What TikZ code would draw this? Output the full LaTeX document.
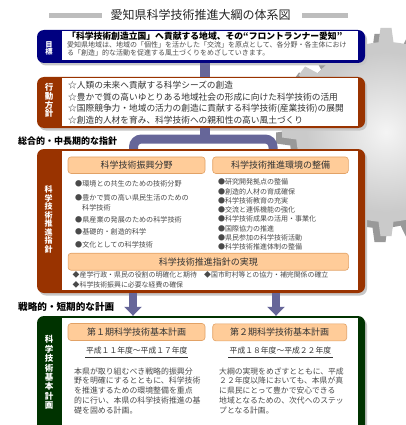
\documentclass[tikz,border=0pt]{standalone}
\usepackage{fontspec}
\setmainfont{Noto Sans CJK JP}
\usetikzlibrary{arrows.meta,calc}

\definecolor{goalblue}{HTML}{000080}
\definecolor{policybrown}{HTML}{993300}
\definecolor{plangreen}{HTML}{003300}
\definecolor{linkpurple}{HTML}{666699}
\definecolor{headfill}{HTML}{FFCC99}
\definecolor{headedge}{HTML}{E2A266}
\definecolor{bodygray}{HTML}{4A4A4A}
\definecolor{gearface}{HTML}{CACACA}
\definecolor{gearside}{HTML}{999999}
\definecolor{titlebar}{HTML}{BDBDBD}

\newcommand{\jfs}[1]{\fontsize{#1}{#1}\selectfont}

\tikzset{
  framebox/.style={rounded corners=7pt, minimum width=328pt, inner sep=0pt, draw=none},
  boxshadow/.style={fill=black!22, rounded corners=7pt},
  headbox/.style={fill=headfill, draw=headedge, line width=0.6pt, rounded corners=3pt,
    inner sep=0pt, text=black!80},
  vlabel/.style={text=white, align=center, inner sep=0pt},
  sectlabel/.style={anchor=west, inner sep=0pt, text=black},
  txt/.style={anchor=west, inner sep=0pt},
  link/.style={draw=linkpurple},
  downarrow/.style={draw=linkpurple, line width=8pt,
    -{Triangle[width=17pt,length=9pt,fill=linkpurple]}},
  geartooth/.style={rotate=#1},
}

\begin{document}
\begin{tikzpicture}[x=1pt, y=-1pt]
\path[use as bounding box] (0,0) rectangle (406,425);
\clip (0,0) rectangle (406,425);
\fill[white] (0,0) rectangle (406,425);

% gear in the background, behind the frames
\begin{scope}[shift={(386,132)}]
  \begin{scope}[shift={(-6,6)}]
    \fill[gearside] (0,0) circle (90pt);
    \foreach \a in {0,18,...,342}
      \fill[gearside, rotate=\a] (-8,86) -- (-5.5,104) -- (5.5,104) -- (8,86) -- cycle;
  \end{scope}
  \fill[gearface] (0,0) circle (90pt);
  \foreach \a in {0,18,...,342}
    \fill[gearface, rotate=\a] (-8,86) -- (-5.5,104) -- (5.5,104) -- (8,86) -- cycle;
  \shade[inner color=white!80!gearface, outer color=gearface] (0,0) circle (80pt);
\end{scope}

% title
\fill[titlebar] (49,12.7) rectangle (102,18.3);
\fill[titlebar] (301.7,12.7) rectangle (348.3,18.3);
\node[inner sep=0pt, text=black!85, font=\jfs{12}] (title) at (200.5,15) {愛知県科学技術推進大綱の体系図};

% frame shadows
\fill[boxshadow] (39,32.5) rectangle (367,65.5);
\fill[boxshadow] (39,79.5) rectangle (367,130.5);
\fill[boxshadow] (39,151.5) rectangle (367,295.5);
\fill[boxshadow] (39,318.5) rectangle (367,445);

% frames
\node[framebox, fill=goalblue, minimum height=33pt] (goal) at (201,46.5) {};
\node[framebox, fill=policybrown, minimum height=51pt] (policy) at (201,102.5) {};
\node[framebox, fill=policybrown, minimum height=144pt] (guide) at (201,221) {};
\node[framebox, fill=plangreen, minimum height=128pt] (plan) at (201,380) {};

\fill[white] (61.5,31.5) rectangle (357.5,60.5);
\fill[white] (61.5,78.5) rectangle (357.5,125.5);
\fill[white] (61.5,150.5) rectangle (357.5,290);
\fill[white] (61.5,317.5) rectangle (357.5,450);

% connectors
\coordinate (stemx) at (205,0);
\coordinate (forkmid) at (205,139);
\coordinate (legL) at (133.5,0);
\coordinate (legR) at (273,0);
\coordinate (colL) at (133,0);
\coordinate (colR) at (276,0);
\draw[link, line width=10pt] (goal.south -| stemx) -- (policy.north -| stemx);
\draw[link, line width=10pt] (policy.south -| stemx) -- (forkmid);
\draw[link, line width=9pt, rounded corners=8pt]
  (guide.north -| legL) |- (forkmid) -| (guide.north -| legR);
\draw[downarrow] (guide.south -| colL) -- (plan.north -| colL);
\draw[downarrow] (guide.south -| colR) -- (plan.north -| colR);

% side labels
\node[vlabel, font=\bfseries\fontsize{7.3}{7.4}\selectfont] (labgoal) at (49,48.7) {目\\標};
\node[vlabel, font=\bfseries\fontsize{8.5}{8.75}\selectfont] (labpolicy) at (49,100.5) {行\\動\\方\\針};
\node[vlabel, font=\bfseries\fontsize{8}{8.5}\selectfont] (labguide) at (48.5,219.2) {科\\学\\技\\術\\推\\進\\指\\針};
\node[vlabel, font=\bfseries\fontsize{8.5}{9.4}\selectfont] (labplan) at (49,372.5) {科\\学\\技\\術\\基\\本\\計\\画};

% goal text
\node[txt, font=\bfseries\jfs{8.8}] (goalhead) at (67,36) {「科学技術創造立国」へ貢献する地域、その“フロントランナー愛知”};
\node[txt, text=bodygray, font=\jfs{7}] (goalbody1) at (67,44.5) {愛知県地域は、地域の「個性」を活かした「交流」を原点として、各分野・各主体におけ};
\node[txt, text=bodygray, font=\jfs{7}] (goalbody2) at (67,52.5) {る「創造」的な活動を促進する風土づくりをめざしていきます。};

% policy text
\node[txt, text=black!80, font=\jfs{8.7}] (pol1) at (68,85.5) {☆人類の未来へ貢献する科学シーズの創造};
\node[txt, text=black!80, font=\jfs{8.7}] (pol2) at (68,97) {☆豊かで質の高いゆとりある地域社会の形成に向けた科学技術の活用};
\node[txt, text=black!80, font=\jfs{8.7}] (pol3) at (68,108.5) {☆国際競争力・地域の活力の創造に貢献する科学技術(産業技術)の展開};
\node[txt, text=black!80, font=\jfs{8.7}] (pol4) at (68,120) {☆創造的人材を育み、科学技術への親和性の高い風土づくり};

% section labels
\node[sectlabel, font=\bfseries\jfs{9}] (sect1) at (18,141.5) {総合的・中長期的な指針};
\node[sectlabel, font=\bfseries\jfs{9.6}] (sect2) at (18,306.5) {戦略的・短期的な計画};

% guide contents
\node[headbox, minimum width=137pt, minimum height=16.5pt, font=\jfs{9}] (fieldhead) at (136.5,165.2) {科学技術振興分野};
\node[headbox, minimum width=135.6pt, minimum height=16.5pt, font=\jfs{9}] (envhead) at (280.5,165.2) {科学技術推進環境の整備};
\node[headbox, minimum width=280.5pt, minimum height=17pt, font=\jfs{9}] (realhead) at (208.3,261.7) {科学技術推進指針の実現};

\node[txt, text=bodygray, font=\jfs{7.1}] (f1) at (75,184.3) {●環境との共生のための技術分野};
\node[txt, text=bodygray, font=\jfs{7.1}] (f2) at (75,198.3) {●豊かで質の高い県民生活のための};
\node[txt, text=bodygray, font=\jfs{7.1}] (f2b) at (82,207.6) {科学技術};
\node[txt, text=bodygray, font=\jfs{7.1}] (f3) at (75,219.5) {●県産業の発展のための科学技術};
\node[txt, text=bodygray, font=\jfs{7.1}] (f4) at (75,231.8) {●基礎的・創造的科学};
\node[txt, text=bodygray, font=\jfs{7.1}] (f5) at (75,244.3) {●文化としての科学技術};

\foreach \t [count=\i] in {●研究開発拠点の整備, ●創造的人材の育成確保, ●科学技術教育の充実,
    ●交流と連係機能の強化, ●科学技術成果の活用・事業化, ●国際協力の推進,
    ●県民参加の科学技術活動, ●科学技術推進体制の整備}
  \node[txt, text=bodygray, font=\jfs{7}] (e\i) at (218,{182.3+9.25*(\i-1)}) {\t};

\node[txt, text=bodygray, font=\jfs{6.9}] (r1) at (72.5,275.2) {◆産学行政・県民の役割の明確化と期待};
\node[txt, text=bodygray, font=\jfs{6.9}] (r2) at (204,275.2) {◆国市町村等との協力・補完関係の確立};
\node[txt, text=bodygray, font=\jfs{6.9}] (r3) at (72.5,285.2) {◆科学技術振興に必要な経費の確保};

% plan contents
\node[headbox, minimum width=137pt, minimum height=17pt, font=\jfs{9}] (plan1head) at (136.5,332) {第１期科学技術基本計画};
\node[headbox, minimum width=134pt, minimum height=17pt, font=\jfs{9}] (plan2head) at (279.7,332.3) {第２期科学技術基本計画};

\node[inner sep=0pt, text=black!80, font=\jfs{7.8}] (date1) at (136.8,350.7) {平成１１年度〜平成１７年度};
\node[inner sep=0pt, text=black!80, font=\jfs{7.8}] (date2) at (280.4,350.7) {平成１８年度〜平成２２年度};
\draw[black!80, line width=1.2pt] (85,357.3) -- (188.3,357.3);
\draw[black!80, line width=1.2pt] (228,357.3) -- (332.7,357.3);

\foreach \t [count=\i] in {本県が取り組むべき戦略的振興分, 野を明確にするとともに、科学技術,
    を推進するための環境整備を重点, 的に行い、本県の科学技術推進の基, 礎を固める計画。}
  \node[txt, text=bodygray, font=\jfs{7.9}] (pa\i) at (74,{371+9.8*(\i-1)}) {\t};

\foreach \t [count=\i] in {大綱の実現をめざすとともに、平成, ２２年度以降においても、本県が真,
    に県民にとって豊かで安心できる, 地域となるための、次代へのステッ, プとなる計画。}
  \node[txt, text=bodygray, font=\jfs{7.8}] (pb\i) at (219,{371+9.8*(\i-1)}) {\t};

\end{tikzpicture}
\end{document}
